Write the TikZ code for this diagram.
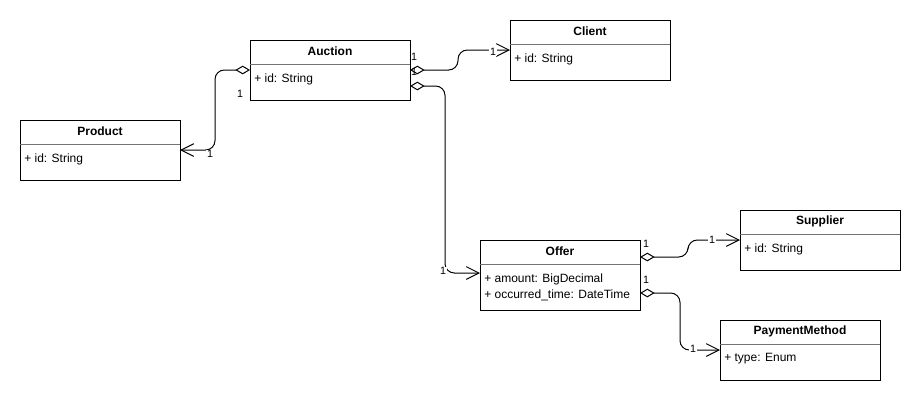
\documentclass[tikz,border=0pt]{standalone}
\usepackage{fontspec}
\setmainfont{Liberation Sans}
\usetikzlibrary{arrows.meta}
\begin{document}
\begin{tikzpicture}[x=0.75pt,y=-0.75pt,
  classbox/.style={draw=black, line width=0.75pt, fill=white, inner sep=0pt, outer sep=0pt, minimum width=120pt},
  ctitle/.style={inner sep=0pt, font=\fontsize{9}{10}\selectfont\bfseries},
  cattr/.style={inner sep=0pt, anchor=west, font=\fontsize{9}{10}\selectfont},
  sepline/.style={draw=black!55, line width=0.75pt},
  assoc/.style={draw=black, line width=0.75pt, rounded corners=7pt,
    {Diamond[open,length=11pt,width=6.5pt,line width=0.75pt]}-{Straight Barb[length=9.5pt,width=9.5pt,line width=0.75pt]}},
  mult/.style={inner sep=0.6pt, font=\fontsize{8}{9}\selectfont},
  multl/.style={mult, fill=white}
]
\useasboundingbox (0,0) rectangle (921,401);
\fill[white] (0,0) rectangle (921,401);

% Auction
\node[classbox, minimum height=45pt] (auction) at (330,70) {};
\node[ctitle] (auctionT) at (330,51) {Auction};
\draw[sepline] (250,64) -- (410,64);
\node[cattr] (auctionA) at (254,79) {+ id: String};

% Client
\node[classbox, minimum height=45pt] (client) at (590,50) {};
\node[ctitle] (clientT) at (590,31) {Client};
\draw[sepline] (510,44) -- (670,44);
\node[cattr] (clientA) at (514,59) {+ id: String};

% Product
\node[classbox, minimum height=45pt] (product) at (100,150) {};
\node[ctitle] (productT) at (100,131) {Product};
\draw[sepline] (20,144) -- (180,144);
\node[cattr] (productA) at (24,159) {+ id: String};

% Offer
\node[classbox, minimum height=52.5pt] (offer) at (560,275) {};
\node[ctitle] (offerT) at (560,251) {Offer};
\draw[sepline] (480,264) -- (640,264);
\node[cattr] (offerA1) at (484,279) {+ amount: BigDecimal};
\node[cattr] (offerA2) at (484,295) {+ occurred\_time: DateTime};

% Supplier
\node[classbox, minimum height=45pt] (supplier) at (820,240) {};
\node[ctitle] (supplierT) at (820,221) {Supplier};
\draw[sepline] (740,234) -- (900,234);
\node[cattr] (supplierA) at (744,249) {+ id: String};

% PaymentMethod
\node[classbox, minimum height=45pt] (payment) at (800,350) {};
\node[ctitle] (paymentT) at (800,331) {PaymentMethod};
\draw[sepline] (720,344) -- (880,344);
\node[cattr] (paymentA) at (724,359) {+ type: Enum};

% Connectors
\coordinate (a1) at (auction.east);
\coordinate (a2) at ([yshift=-12pt]auction.east);
\coordinate (o1) at ([yshift=13.5pt]offer.east);
\coordinate (o2) at ([yshift=-13.5pt]offer.east);
\coordinate (offin) at ([yshift=1.5pt]offer.west);

\draw[assoc] (auction.west) -- ++(-35,0) |- (product.east);
\draw[assoc] (a1) -- ++(48,0) |- (client.west);
\draw[assoc] (a2) -- ++(35,0) |- (offin);
\draw[assoc] (o1) -- ++(48,0) |- (supplier.west);
\draw[assoc] (o2) -- ++(40,0) |- (payment.west);

% Multiplicities
\node[mult] (m1) at (240,94) {1};
\node[multl] (m2) at (210,154) {1};
\node[mult] (m3) at (414,57) {1};
\node[mult] (m4) at (414,72) {1};
\node[multl] (m5) at (493,52) {1};
\node[multl] (m6) at (443,271) {1};
\node[mult] (m7) at (646,244) {1};
\node[multl] (m8) at (712,240) {1};
\node[mult] (m9) at (646,280) {1};
\node[multl] (m10) at (693,349) {1};
\end{tikzpicture}
\end{document}
